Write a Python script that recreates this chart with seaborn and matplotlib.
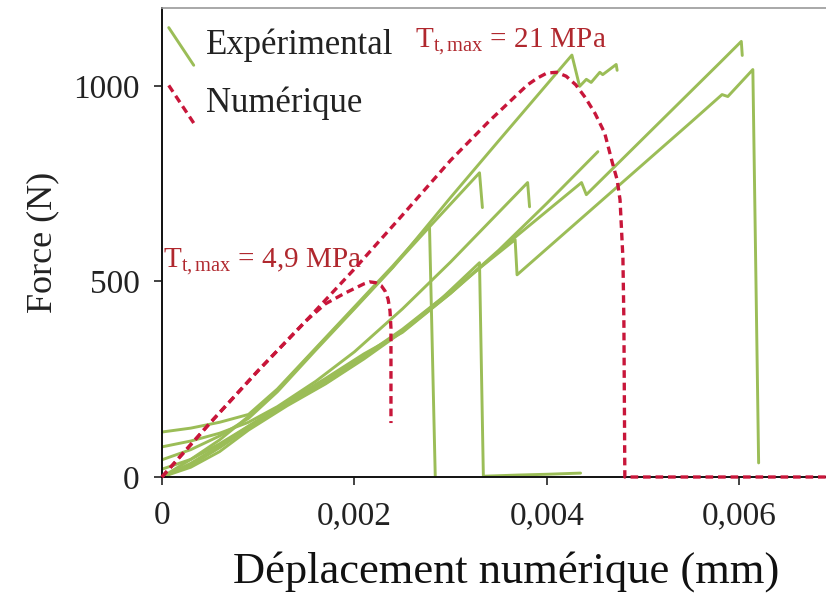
"""Force vs numerical displacement: experimental curves against two numerical models."""
import matplotlib
matplotlib.use('Agg')
import numpy as np
import pandas as pd
import matplotlib.pyplot as plt
import seaborn as sns
from matplotlib.lines import Line2D
from matplotlib.legend_handler import HandlerLine2D

GREEN = '#9bbd57'
RED = '#c8163a'
TXT_RED = '#b0282e'

# --- Experimental curves (mm, N) ---
e1_x = [0, 0.0003, 0.0006, 0.0009, 0.0012, 0.0016, 0.002, 0.0024, 0.00278, 0.00284]
e1_y = [115, 125, 140, 160, 225, 330, 435, 540, 645, 3]
e2_x = [0, 0.0003, 0.0006, 0.0009, 0.0012, 0.0016, 0.002, 0.0024, 0.0028, 0.0033, 0.00333]
e2_y = [0, 45, 95, 155, 222, 328, 432, 537, 645, 778, 689]
e3_x = [0, 0.0003, 0.0006, 0.0009, 0.0012, 0.0016, 0.002, 0.0025, 0.003, 0.0038, 0.00382]
e3_y = [77, 92, 112, 140, 180, 245, 320, 430, 550, 753, 691]
e4_x = [0, 0.0003, 0.0006, 0.0009, 0.0013, 0.0017, 0.0021, 0.0025, 0.0029, 0.0033, 0.00334, 0.0037, 0.004, 0.00435]
e4_y = [0, 30, 75, 125, 185, 240, 305, 375, 455, 548, 2, 5, 7, 10]
e5_x = [0, 0.0003, 0.0006, 0.0009, 0.0013, 0.0017, 0.0021, 0.0025, 0.003, 0.00367, 0.00369,
        0.004, 0.0045, 0.005, 0.0055, 0.00582, 0.00588, 0.00614, 0.0062]
e5_y = [20, 45, 85, 130, 190, 245, 310, 378, 475, 607, 517, 584, 692, 800, 908, 978, 973, 1042, 36]
e6_x = [0, 0.0003, 0.0006, 0.0009, 0.0013, 0.0017, 0.0021, 0.0025, 0.003, 0.0035, 0.004, 0.00453]
e6_y = [0, 35, 80, 130, 192, 252, 315, 370, 470, 580, 700, 832]
e7_x = [0, 0.0003, 0.0006, 0.0009, 0.0013, 0.0017, 0.0021, 0.0025, 0.003, 0.00364, 0.00436, 0.00441,
        0.0051, 0.0058, 0.00602, 0.00603]
e7_y = [0, 25, 65, 120, 182, 238, 302, 372, 470, 607, 753, 722, 890, 1060, 1114, 1078]
e8_x = [0, 0.0003, 0.0006, 0.0009, 0.0012, 0.0016, 0.002, 0.0024, 0.003, 0.0035, 0.00426, 0.00434,
        0.00441, 0.00446, 0.00455, 0.00458, 0.00472, 0.00473]
e8_y = [44, 70, 105, 150, 218, 325, 430, 536, 715, 860, 1079, 999, 1017, 1009, 1035, 1029, 1055, 1040]

# --- Numerical curves ---
n1_x = [0, 0.0005, 0.001, 0.0015, 0.0017, 0.0019, 0.002, 0.0021, 0.00216, 0.00222, 0.00228,
        0.00232, 0.00235, 0.00237, 0.00238, 0.00238]
n1_y = [0, 138, 272, 400, 443, 470, 482, 494, 499, 497, 489, 475, 455, 425, 380, 138]
n2_x = [0, 0.0005, 0.001, 0.0015, 0.002, 0.0025, 0.003, 0.0034, 0.0037, 0.0038, 0.0039, 0.004, 0.0041,
        0.0042, 0.0043, 0.0044, 0.0045, 0.0046, 0.00468, 0.00473, 0.00476, 0.00479, 0.0048, 0.00481, 0.0069]
n2_y = [0, 138, 272, 400, 532, 670, 810, 910, 980, 1003, 1020, 1033, 1035, 1025, 1003, 970, 930, 880,
        804, 760, 709, 560, 400, 0, 0]

x_ticks = [0, 0.002, 0.004, 0.006]
x_tick_labels = ['0', '0,002', '0,004', '0,006']
y_ticks = [0, 500, 1000]

exp_df = pd.concat([pd.DataFrame({'disp': xs, 'force': ys, 'essai': i})
                    for i, (xs, ys) in enumerate([(e1_x, e1_y), (e2_x, e2_y), (e3_x, e3_y), (e4_x, e4_y),
                                                  (e5_x, e5_y), (e6_x, e6_y), (e7_x, e7_y), (e8_x, e8_y)])])
num_df = pd.concat([pd.DataFrame({'disp': xs, 'force': ys, 'modele': i})
                    for i, (xs, ys) in enumerate([(n1_x, n1_y), (n2_x, n2_y)])])

sns.set_style('ticks')
plt.rcParams['font.family'] = ['Liberation Serif', 'DejaVu Serif']
plt.rcParams['mathtext.fontset'] = 'custom'
plt.rcParams['mathtext.rm'] = 'Liberation Serif'
plt.rcParams['mathtext.it'] = 'Liberation Serif:italic'

fig = plt.figure(figsize=(8.26, 5.97), dpi=100)
ax = fig.add_axes([0.196, 0.201, 0.804, 0.786])

sns.lineplot(data=exp_df, x='disp', y='force', units='essai', estimator=None, sort=False,
             color=GREEN, linewidth=2.1, ax=ax, legend=False)
n_exp = len(ax.lines)
sns.lineplot(data=num_df, x='disp', y='force', units='modele', estimator=None, sort=False,
             color=RED, linewidth=2.4, linestyle=(0, (2.3, 1.45)), ax=ax, legend=False)
for line in ax.lines[n_exp:]:
    line.set_clip_on(False)
    line.set_zorder(4)

ax.set_xlim(0, 0.0069)
ax.set_ylim(0, 1200)
ax.set_xticks(x_ticks)
ax.set_xticklabels(x_tick_labels)
ax.set_yticks(y_ticks)
ax.tick_params(direction='out', length=6, width=1.2, labelsize=24, colors='#222222')
ax.tick_params(axis='x', pad=11)
ax.tick_params(axis='y', pad=10)

for s in ['left', 'bottom']:
    ax.spines[s].set_color('#111111')
    ax.spines[s].set_linewidth(1.4)
ax.spines['top'].set_color('#999999')
ax.spines['top'].set_linewidth(1.2)
ax.spines['right'].set_visible(False)

ax.set_xlabel('Déplacement numérique (mm)', fontsize=32, color='#111111', labelpad=14)
ax.xaxis.label.set_x(0.518)
ax.set_ylabel('Force (N)', fontsize=26, color='#222222', labelpad=10)

ax.text(0.00263, 1114, r'T$_{\mathrm{t,max}}$ = 21 MPa', fontsize=21, color=TXT_RED,
        ha='left', va='center')
ax.text(0.00001, 550, r'T$_{\mathrm{t,max}}$ = 4,9 MPa', fontsize=21, color=TXT_RED,
        ha='left', va='center')


class DiagHandler(HandlerLine2D):
    def create_artists(self, legend, orig_handle, xdescent, ydescent, width, height, fontsize, trans):
        line = Line2D([-xdescent, -xdescent + width], [-ydescent + height * 1.1, -ydescent - height * 0.45])
        self.update_prop(line, orig_handle, legend)
        line.set_transform(trans)
        return [line]


handles = [Line2D([], [], color=GREEN, linewidth=2.1),
           Line2D([], [], color=RED, linewidth=2.4, linestyle=(0, (2.3, 1.45)))]
ax.legend(handles, ['Expérimental', 'Numérique'], loc='upper left', bbox_to_anchor=(-0.008, 0.981),
          frameon=False, fontsize=25, handlelength=0.72, handletextpad=0.35, borderpad=0.35,
          borderaxespad=0, labelspacing=0.7, handler_map={Line2D: DiagHandler()},
          labelcolor='#222222')

fig.savefig('out.png', dpi=100, facecolor='white')
plt.close(fig)
print('Saved: out.png')
